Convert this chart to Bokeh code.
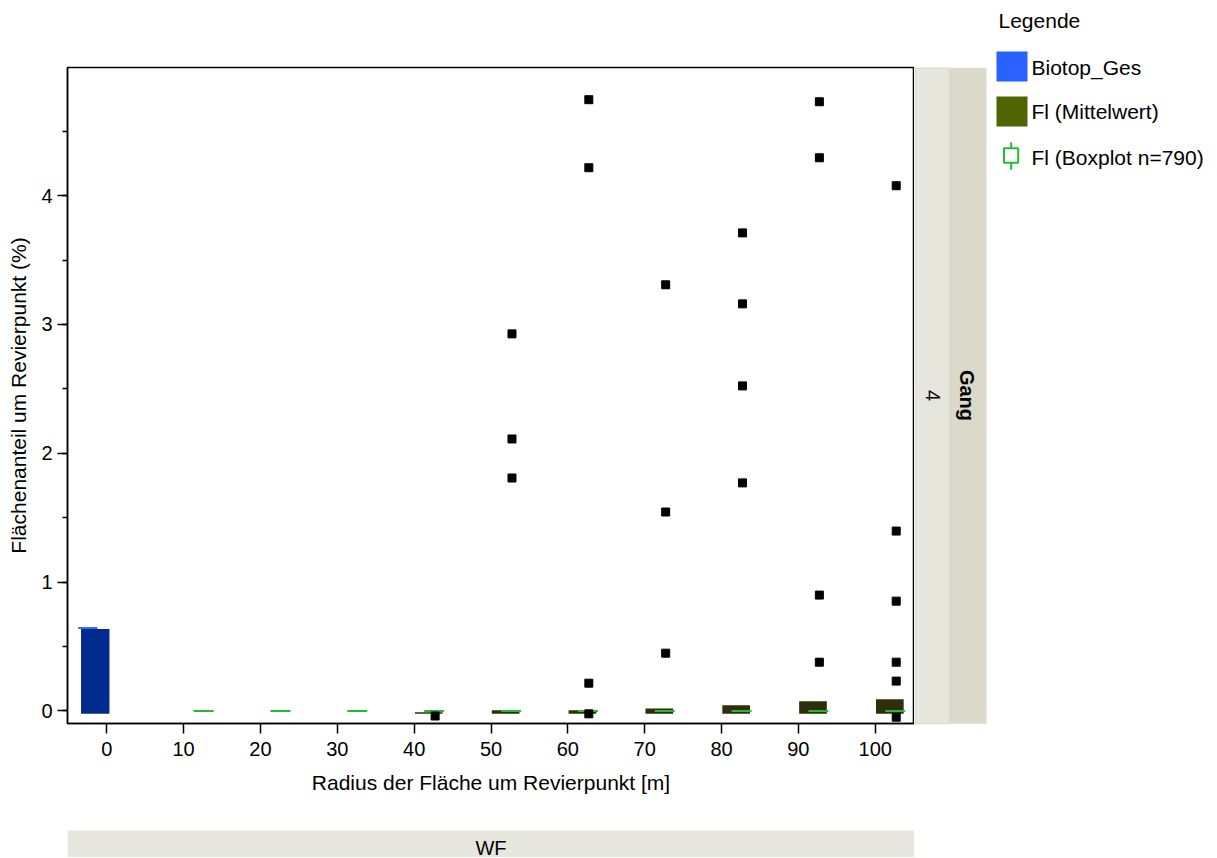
import math
from bokeh.plotting import figure
from bokeh.models import Range1d, FixedTicker, SingleIntervalTicker
from bokeh.layouts import row, column
from bokeh.embed import file_html
from bokeh.resources import INLINE
from bokeh.core.properties import value

FONT = "Liberation Sans"

# ---------------- data ----------------
radius = [0, 10, 20, 30, 40, 50, 60, 70, 80, 90, 100]
tick_labels = ["0", "10", "20", "30", "40", "50", "60", "70", "80", "90", "100"]

biotop_radius = [0]
biotop_mean = [0.635]
biotop_median = [0.643]

fl_radius = [10, 20, 30, 40, 50, 60, 70, 80, 90, 100]
fl_mean = [None, None, None, -0.010, 0.005, 0.005, 0.019, 0.044, 0.075, 0.091]
fl_median = [0.0, 0.0, 0.0, 0.0, 0.0, 0.0, 0.0, 0.0, 0.0, 0.0]

out_radius = [40,
              50, 50, 50,
              60, 60, 60, 60,
              70, 70, 70,
              80, 80, 80, 80,
              90, 90, 90, 90,
              100, 100, 100, 100, 100, 100]
out_value = [-0.040,
             2.927, 2.111, 1.808,
             4.745, 4.217, 0.215, -0.023,
             3.308, 1.544, 0.448,
             3.711, 3.160, 2.523, 1.770,
             4.729, 4.294, 0.899, 0.378,
             4.077, 1.396, 0.852, 0.378, 0.231, -0.049]

legend_labels = ["Biotop_Ges", "Fl (Mittelwert)", "Fl (Boxplot n=790)"]

# ---------------- styles ----------------
BAR_BASE = -0.023
BLUE_BAR = "#002B8E"
BLUE_LIGHT = "#2962FF"
OLIVE_BAR = "#2E2E0A"
OLIVE_LEG = "#4F6600"
GREEN = "#22BB33"
STRIP_LIGHT = "#E6E6DD"
STRIP_DARK = "#DBD9CA"

# ---------------- main plot ----------------
p = figure(frame_width=847, frame_height=656,
           min_border_left=67, min_border_right=0, min_border_top=67, min_border_bottom=107,
           x_range=Range1d(-5.11, 105.11), y_range=Range1d(-0.098, 4.995),
           output_backend="svg", toolbar_location=None)
p.xgrid.visible = False
p.ygrid.visible = False
p.outline_line_color = "black"
p.outline_line_width = 1.5
p.background_fill_color = "white"
p.border_fill_color = "white"

# Biotop_Ges bar (left dodge)
p.vbar(x=[r - 1.5 for r in biotop_radius], width=3.7, bottom=BAR_BASE, top=biotop_mean,
       fill_color=BLUE_BAR, line_color=None)
p.segment(x0=[r - 3.73 for r in biotop_radius], x1=[r - 1.21 for r in biotop_radius],
          y0=biotop_median, y1=biotop_median, line_color="#3A6EF5", line_width=2)

# Fl mean bars (right dodge)
fx = [r + 1.9 for r, m in zip(fl_radius, fl_mean) if m is not None]
ft = [m for m in fl_mean if m is not None]
p.vbar(x=fx, width=3.6, bottom=BAR_BASE, top=ft, fill_color=OLIVE_BAR, line_color=None)

# Fl boxplot medians
p.segment(x0=[r + 1.3 for r in fl_radius], x1=[r + 3.9 for r in fl_radius],
          y0=fl_median, y1=fl_median, line_color=GREEN, line_width=2)

# outliers
p.scatter(x=[r + 2.73 for r in out_radius], y=out_value, marker="square", size=8,
          fill_color="black", line_color="black")

# axes
p.xaxis.ticker = FixedTicker(ticks=radius)
p.xaxis.major_label_overrides = {r: t for r, t in zip(radius, tick_labels)}
p.yaxis.ticker = SingleIntervalTicker(interval=1, num_minor_ticks=2)
for ax in (p.xaxis[0], p.yaxis[0]):
    ax.axis_line_color = "black"
    ax.axis_line_width = 1.5
    ax.major_tick_line_color = "black"
    ax.major_tick_line_width = 1.5
    ax.major_tick_in = 0
    ax.major_tick_out = 10
    ax.major_label_text_font = FONT
    ax.major_label_text_font_size = "20px"
    ax.major_label_text_color = "black"
    ax.axis_label_text_font = FONT
    ax.axis_label_text_font_size = "21px"
    ax.axis_label_text_font_style = "normal"
    ax.axis_label_text_color = "black"
p.xaxis.minor_tick_line_color = None
p.yaxis.minor_tick_in = 0
p.yaxis.minor_tick_out = 5
p.yaxis.minor_tick_line_width = 1.5
p.yaxis.minor_tick_line_color = "black"
p.xaxis.major_label_standoff = 8
p.yaxis.major_label_standoff = 5
p.xaxis.axis_label = "Radius der Fläche um Revierpunkt [m]"
p.yaxis.axis_label = "Flächenanteil um Revierpunkt (%)"
p.xaxis.axis_label_standoff = 12
p.yaxis.axis_label_standoff = 8

# ---------------- bottom strip (WF) ----------------
wf = figure(frame_width=847, frame_height=27, min_border_left=67, min_border_right=0,
            min_border_top=0, min_border_bottom=0,
            x_range=Range1d(0, 1), y_range=Range1d(27, 0),
            output_backend="svg", toolbar_location=None)
wf.axis.visible = False
wf.grid.visible = False
wf.outline_line_color = None
wf.background_fill_color = STRIP_LIGHT
wf.border_fill_color = "white"
wf.text(x=[0.5], y=[17], text=["WF"], text_font=value(FONT), text_font_size=value("20px"),
        text_align="center", text_baseline="middle", text_color="black")

# ---------------- side panel: facet strips + legend ----------------
side = figure(frame_width=302, frame_height=857, min_border=0,
              x_range=Range1d(0, 302), y_range=Range1d(857, 0),
              output_backend="svg", toolbar_location=None)
side.axis.visible = False
side.grid.visible = False
side.outline_line_color = None
side.background_fill_color = "white"
side.border_fill_color = "white"

side.quad(left=[0.5], right=[35], top=[67.5], bottom=[723.3],
          fill_color=STRIP_LIGHT, line_color="#D6D6C8", line_width=1)
side.quad(left=[35], right=[72], top=[67.3], bottom=[723.3],
          fill_color=STRIP_DARK, line_color=None)
side.text(x=[18], y=[395], text=["4"], angle=-math.pi / 2, text_font=value(FONT),
          text_font_size=value("20px"), text_align="center", text_baseline="middle",
          text_color="black")
side.text(x=[52], y=[395], text=["Gang"], angle=-math.pi / 2, text_font=value(FONT),
          text_font_size=value("20px"), text_font_style="bold", text_align="center",
          text_baseline="middle", text_color="black")

# legend
side.text(x=[84], y=[20], text=["Legende"], text_font=value(FONT), text_font_size=value("21px"),
          text_align="left", text_baseline="middle", text_color="black")
side.quad(left=[82], right=[113], top=[51], bottom=[81], fill_color=BLUE_LIGHT, line_color=None)
side.quad(left=[82], right=[113], top=[96], bottom=[126], fill_color=OLIVE_LEG, line_color=None)
side.segment(x0=[96.7], x1=[96.7], y0=[141.7], y1=[169.3], line_color=GREEN, line_width=2)
side.quad(left=[89.5], right=[103.7], top=[147.7], bottom=[162.3], fill_color="white",
          line_color=GREEN, line_width=2)
side.text(x=[117, 117, 117], y=[67, 111, 157], text=legend_labels, text_font=value(FONT),
          text_font_size=value("21px"), text_align="left", text_baseline="middle",
          text_color="black")

layout = row(column(p, wf), side)
open("out.html", "w").write(file_html(layout, INLINE))
